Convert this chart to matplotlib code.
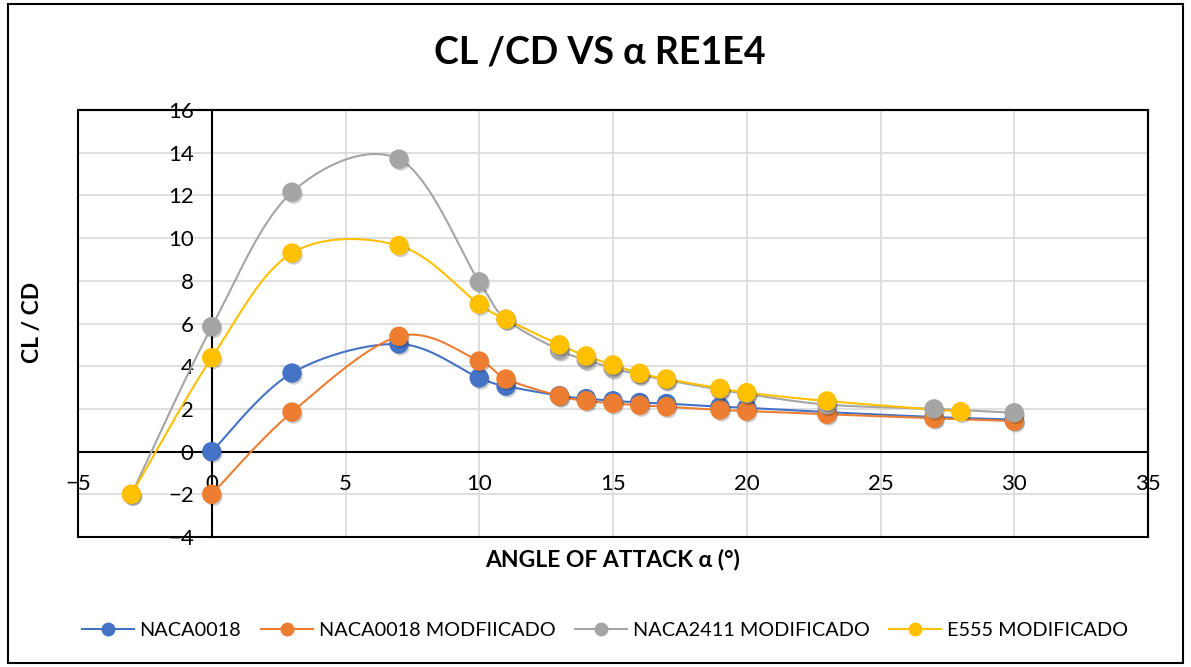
import numpy as np
import matplotlib
matplotlib.use("Agg")
import matplotlib.pyplot as plt
import matplotlib.patheffects as pe
from matplotlib.patches import Rectangle
from matplotlib.lines import Line2D

plt.rcParams['font.family'] = ['Lato', 'DejaVu Sans']

# ---------------- data ----------------
title = "CL /CD VS α RE1E4"
x_label = "ANGLE OF ATTACK α (°)"
y_label = "CL / CD"

names = ["NACA0018", "NACA0018 MODFIICADO", "NACA2411 MODIFICADO", "E555 MODIFICADO"]
colors = ["#4472C4", "#ED7D31", "#A5A5A5", "#FFC000"]

naca0018_x = [0, 3, 7, 10, 11, 13, 14, 15, 16, 17, 19, 20, 23, 27, 30]
naca0018_y = [0.0, 3.68, 5.04, 3.45, 3.07, 2.62, 2.48, 2.38, 2.3, 2.25, 2.1, 2.05, 1.85, 1.62, 1.5]

naca0018m_x = [0, 3, 7, 10, 11, 13, 14, 15, 16, 17, 19, 20, 23, 27, 30]
naca0018m_y = [-2.0, 1.85, 5.4, 4.24, 3.4, 2.6, 2.38, 2.26, 2.17, 2.1, 1.95, 1.9, 1.75, 1.56, 1.43]

naca2411m_x = [-3, 0, 3, 7, 10, 11, 13, 14, 15, 16, 17, 19, 20, 23, 27, 30]
naca2411m_y = [-2.0, 5.85, 12.15, 13.7, 7.95, 6.2, 4.75, 4.3, 3.9, 3.6, 3.35, 2.9, 2.7, 2.2, 2.0, 1.82]

e555m_x = [-3, 0, 3, 7, 10, 11, 13, 14, 15, 16, 17, 19, 20, 23, 28]
e555m_y = [-2.0, 4.4, 9.3, 9.65, 6.9, 6.2, 5.0, 4.48, 4.06, 3.67, 3.4, 2.96, 2.76, 2.37, 1.87]

series_x = [naca0018_x, naca0018m_x, naca2411m_x, e555m_x]
series_y = [naca0018_y, naca0018m_y, naca2411m_y, e555m_y]

x_ticks = [-5, 0, 5, 10, 15, 20, 25, 30, 35]
y_ticks = [-4, -2, 0, 2, 4, 6, 8, 10, 12, 14, 16]

# ---------------- helpers ----------------
SX, SY = 26.75, 21.35  # px per unit (for screen-space smoothing)


def smooth(xs, ys, n=40):
    P = np.column_stack([np.array(xs, float) * SX, np.array(ys, float) * SY])
    m = len(P)
    out = [P[0]]
    for i in range(m - 1):
        p0 = P[i - 1] if i > 0 else P[i]
        p1 = P[i]
        p2 = P[i + 1]
        p3 = P[i + 2] if i + 2 < m else P[i + 1]
        c1 = p1 + (p2 - p0) / 6.0
        c2 = p2 - (p3 - p1) / 6.0
        t = np.linspace(0, 1, n)[1:, None]
        seg = ((1 - t) ** 3) * p1 + 3 * ((1 - t) ** 2) * t * c1 + 3 * (1 - t) * t ** 2 * c2 + t ** 3 * p2
        out.extend(seg)
    out = np.array(out)
    return out[:, 0] / SX, out[:, 1] / SY


# ---------------- figure ----------------
W, H = 1191, 667
fig = plt.figure(figsize=(W / 100, H / 100), dpi=100)
fig.patches.append(Rectangle((8 / W, 4 / H), (1183 - 8) / W, (663 - 4) / H,
                             transform=fig.transFigure, fill=False,
                             edgecolor='black', linewidth=1.5))

L, R, T, B = 78, 1148, 110, 537
ax = fig.add_axes([L / W, 1 - B / H, (R - L) / W, (B - T) / H])
ax.set_xlim(-5, 35)
ax.set_ylim(-4, 16)
ax.set_xticks(x_ticks)
ax.set_yticks(y_ticks)
ax.grid(True, color='#D9D9D9', linewidth=1.2)
ax.set_axisbelow(True)

for s in ['top', 'right']:
    ax.spines[s].set_color('black')
    ax.spines[s].set_linewidth(1.5)
ax.spines['left'].set_position(('data', 0))
ax.spines['bottom'].set_position(('data', 0))
ax.spines['left'].set_linewidth(1.5)
ax.spines['bottom'].set_linewidth(1.5)
ax.add_patch(Rectangle((0, 0), 1, 1, transform=ax.transAxes, fill=False,
                       edgecolor='black', linewidth=1.5, clip_on=False, zorder=5))
ax.tick_params(axis='x', length=0, pad=16, labelsize=16)
ax.tick_params(axis='y', length=0, pad=13, labelsize=16)

shadow = [pe.SimplePatchShadow(offset=(1.2, -1.8), shadow_rgbFace='black', alpha=0.2), pe.Normal()]

for xs, ys, c, nm in zip(series_x, series_y, colors, names):
    sx, sy = smooth(xs, ys)
    ax.plot(sx, sy, color=c, linewidth=1.5, zorder=3)
    ax.plot(xs, ys, linestyle='none', marker='o', markersize=13, color=c,
            markeredgecolor=c, zorder=4, path_effects=shadow)

fig.text(0.5 * (433 + 766) / W, 1 - 52 / H, title, ha='center', va='center',
         fontsize=27, fontweight='bold')
fig.text((484 + 741) / 2 / W, 1 - 560 / H, x_label, ha='center', va='center',
         fontsize=16.5, fontweight='bold')
fig.text(32 / W, 1 - 322 / H, y_label, ha='center', va='center', rotation=90,
         fontsize=16.5, fontweight='bold')

handles = [Line2D([0], [0], color=c, linewidth=1.5, marker='o', markersize=9)
           for c in colors]
fig.legend(handles, names, loc='center', bbox_to_anchor=(605 / W, 1 - 630 / H),
           ncol=4, frameon=False, fontsize=14.3, handlelength=2.6,
           columnspacing=1.0, handletextpad=0.3)

fig.savefig("out.png", dpi=100)
